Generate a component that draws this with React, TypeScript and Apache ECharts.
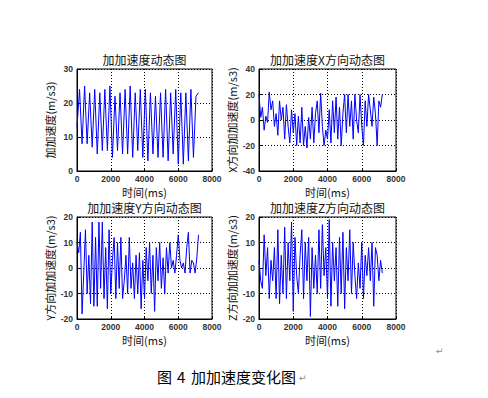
import React, { useEffect, useRef } from "react";
import * as echarts from "echarts";

// time stamps (ms)
const timeA = [0,150,300,450,600,750,900,1050,1200,1350,1500,1650,1800,1950,2100,2250,2400,2550,2700,2850,3000,3150,3300,3450,3600,3750,3900,4050,4200,4350,4500,4650,4800,4950,5100,5250,5400,5550,5700,5850,6000,6150,6300,6450,6600,6750,6900,7050,7200];
const timeB = [0,100,200,300,400,500,600,700,800,900,1000,1100,1200,1300,1400,1500,1600,1700,1800,1900,2000,2100,2200,2300,2400,2500,2600,2700,2800,2900,3000,3100,3200,3300,3400,3500,3600,3700,3800,3900,4000,4100,4200,4300,4400,4500,4600,4700,4800,4900,5000,5100,5200,5300,5400,5500,5600,5700,5800,5900,6000,6100,6200,6300,6400,6500,6600,6700,6800,6900,7000,7100,7200];

// 加加速度 (total)
const jerkTotal = [13,24,8,25,8,23,7,24,5,23,6,24,6,25,4,22,6,23,5,24,5,25,4,23,6,24,4,24,3,23,5,22,4,23,4,24,3,23,5,24,2,23,2,23,3,24,4,22,23];
// X 方向
const jerkX = [20,2,10,-8,3,-2,22,8,15,-5,5,-12,15,0,10,-15,12,-5,-18,8,-10,5,-20,3,-18,10,-20,-5,-22,2,-15,10,-18,5,15,-10,21,-5,-20,-8,-15,8,-18,15,-10,18,-15,10,-20,5,20,-10,20,-5,15,-15,20,0,-10,20,-5,-20,15,-5,20,8,-5,18,5,-20,15,10,20];
// Y 方向
const jerkY = [10,6,14,-18,-2,15,-10,5,-14,18,-15,12,-15,18,-8,18,-12,8,-16,15,-10,3,12,-12,10,-8,12,-12,-5,5,-10,12,-8,2,-12,5,-10,6,-16,3,-12,8,-5,10,-10,5,-17,8,-5,10,-8,4,-10,8,-2,10,0,3,-2,5,13,3,0,2,-2,8,14,-2,3,2,-2,4,13];
// Z 方向
const jerkZ = [3,-5,-8,13,-3,8,-12,3,-5,8,-12,15,-14,5,-10,16,-12,10,-5,18,-17,12,-3,-10,5,15,-12,10,-5,12,-19,8,-8,5,-10,15,-8,17,-3,8,-12,19,-15,10,-5,8,-15,12,-10,14,-16,8,-5,15,-10,10,-3,-12,2,-8,10,-12,5,-3,8,-5,10,-15,8,5,-5,3,-2];

const titles = ["加加速度动态图", "加加速度X方向动态图", "加加速度Y方向动态图", "加加速度Z方向动态图"];
const yNames = ["加加速度(m/s3)", "X方向加加速度(m/s3)", "Y方向加加速度(m/s3)", "Z方向加加速度(m/s3)"];
const xName = "时间(ms)";
const yRanges = [[0, 30, 10], [-40, 40, 20], [-20, 20, 10], [-20, 20, 10]];
const captionParts = ["图", "4", "加加速度变化图"];

export default function App() {
  const ref = useRef<HTMLDivElement>(null);
  useEffect(() => {
    const chart = echarts.init(ref.current!, null, { renderer: "svg" });
    const grids = [
      { left: 77, top: 69, width: 135, height: 102 },
      { left: 259, top: 69, width: 137, height: 102 },
      { left: 77, top: 217, width: 135, height: 102 },
      { left: 259, top: 217, width: 137, height: 102 },
    ];
    const seriesData = [
      timeA.map((t, i) => [t, jerkTotal[i]]),
      timeB.map((t, i) => [t, jerkX[i]]),
      timeB.map((t, i) => [t, jerkY[i]]),
      timeB.map((t, i) => [t, jerkZ[i]]),
    ];
    const tickFont = { color: "#333", fontSize: 8.5, fontWeight: "bold" as const, fontFamily: "Liberation Sans, Arial, sans-serif" };
    const nameFont = { color: "#111", fontSize: 11, lineHeight: 12, fontFamily: "Noto Sans CJK SC, sans-serif" };
    const splitLine = { show: true, lineStyle: { color: "#000", type: [1, 2] as any, width: 1 } };
    const fmt = (v: number) => String(v);
    const capFont = "15px 'Noto Sans CJK SC', sans-serif";
    const option: any = {
      animation: false,
      backgroundColor: "#fff",
      grid: grids.map((g) => ({ ...g, show: true, borderColor: "#000", borderWidth: 1, backgroundColor: "#fff", containLabel: false })),
      xAxis: grids.map((_, i) => ({
        type: "value",
        gridIndex: i,
        min: 0,
        max: 8000,
        interval: 2000,
        name: xName,
        nameLocation: "middle",
        nameGap: 15,
        nameTextStyle: nameFont,
        axisLine: { show: true, onZero: false, lineStyle: { color: "#000" } },
        axisTick: { show: true, inside: true, length: 3, lineStyle: { color: "#000" } },
        axisLabel: { ...tickFont, margin: 3, formatter: fmt },
        splitLine,
      })),
      yAxis: grids.map((_, i) => ({
        type: "value",
        gridIndex: i,
        min: yRanges[i][0],
        max: yRanges[i][1],
        interval: yRanges[i][2],
        name: yNames[i],
        nameLocation: "middle",
        nameRotate: 90,
        nameGap: 21,
        nameTextStyle: nameFont,
        axisLine: { show: true, onZero: false, lineStyle: { color: "#000" } },
        axisTick: { show: true, inside: true, length: 3, lineStyle: { color: "#000" } },
        axisLabel: { ...tickFont, margin: 4, formatter: fmt },
        splitLine,
      })),
      series: seriesData.map((d, i) => ({
        type: "line",
        xAxisIndex: i,
        yAxisIndex: i,
        data: d,
        showSymbol: false,
        symbol: "none",
        lineStyle: { color: "#0000ff", width: 1 },
      })),
      graphic: [
        ...grids.map((g, i) => ({
          type: "text",
          x: g.left + g.width / 2,
          y: g.top - 10,
          style: { text: titles[i], fill: "#111", font: "12px 'Noto Sans CJK SC', sans-serif", lineHeight: 12, textAlign: "center", textVerticalAlign: "middle" },
        })),
        { type: "text", x: 157, y: 376, style: { text: captionParts[0], fill: "#000", font: capFont, textAlign: "left", textVerticalAlign: "middle" } },
        { type: "text", x: 177, y: 376, style: { text: captionParts[1], fill: "#000", font: capFont, textAlign: "left", textVerticalAlign: "middle" } },
        { type: "text", x: 191, y: 376, style: { text: captionParts[2], fill: "#000", font: capFont, textAlign: "left", textVerticalAlign: "middle" } },
        {
          type: "text",
          x: 299,
          y: 378,
          style: { text: "↵", fill: "#888", font: "9px 'DejaVu Sans', sans-serif", textAlign: "left", textVerticalAlign: "middle" },
        },
        {
          type: "text",
          x: 436,
          y: 351,
          style: { text: "↵", fill: "#888", font: "9px 'DejaVu Sans', sans-serif", textAlign: "left", textVerticalAlign: "middle" },
        },
      ],
    };
    chart.setOption(option);
    return () => chart.dispose();
  }, []);
  return (
    <div style={{ position: "fixed", left: 0, top: 0, width: 488, height: 398, background: "#fff" }}>
      <div ref={ref} style={{ width: 488, height: 398 }} />
    </div>
  );
}
